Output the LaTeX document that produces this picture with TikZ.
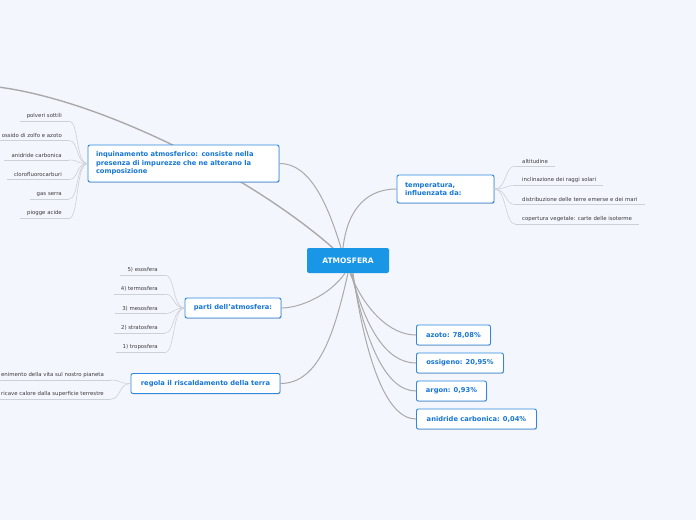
\documentclass[tikz,border=0pt]{standalone}
\usepackage{fontspec}
\setmainfont{DejaVu Sans}
\usetikzlibrary{shadows}
\hyphenpenalty=10000
\exhyphenpenalty=10000
\definecolor{bg}{RGB}{243,246,253}
\definecolor{mainblue}{RGB}{26,150,230}
\definecolor{txtblue}{RGB}{22,118,214}
\definecolor{brd}{RGB}{46,136,224}
\definecolor{conngray}{RGB}{170,170,170}
\definecolor{leafgray}{RGB}{205,208,214}
\definecolor{leaftxt}{RGB}{60,60,60}
\tikzset{
  conn/.style={draw=conngray, line width=1pt},
  longconn/.style={draw=conngray, line width=1.4pt},
  leafconn/.style={draw=leafgray, line width=0.6pt},
  box/.style={draw=brd, line width=0.9pt, fill=white, rounded corners=2pt,
    text=txtblue, font=\fontsize{6.7}{8.6}\selectfont\bfseries,
    inner xsep=8pt, inner ysep=3pt, minimum height=20pt,
    drop shadow={shadow xshift=0.6pt, shadow yshift=-0.9pt, opacity=0.35}},
  root/.style={fill=mainblue, rounded corners=2pt, text=white,
    font=\fontsize{7.5}{9}\selectfont\bfseries, minimum width=82pt, minimum height=25pt},
  leaf/.style={font=\fontsize{5.4}{6.5}\selectfont, text=leaftxt, inner xsep=7pt, inner ysep=2.5pt},
}
\begin{document}
\begin{tikzpicture}[x=1pt,y=-1pt]
\fill[bg] (0,0) rectangle (696,520);
\clip (0,0) rectangle (696,520);
\useasboundingbox (0,0) rectangle (696,520);

% long connector to off-canvas node
\coordinate (offnode) at (-2,87);
\coordinate (atmlong) at (333,248);
\draw[longconn] (atmlong) .. controls (250,175) and (100,100) .. (offnode);

% root
\node[root] (atm) at (348,260.5) {ATMOSFERA};

% main boxes
\node[box, minimum width=97pt, minimum height=28pt, text width=81pt, align=left] (temp) at (445.5,189) {temperatura,\\influenzata da:};
\node[box, minimum width=191pt, minimum height=37pt, text width=175pt, align=left] (inq) at (183.5,163.5) {inquinamento atmosferico: consiste nella presenza di impurezze che ne alterano la composizione};
\node[box, minimum width=96pt] (parti) at (233,308) {parti dell'atmosfera:};
\node[box, minimum width=149pt] (reg) at (205.5,383.5) {regola il riscaldamento della terra};
\node[box, minimum width=74pt, anchor=west] (az) at (416,335) {azoto: 78,08\%};
\node[box, minimum width=87pt, anchor=west] (ox) at (416,363) {ossigeno: 20,95\%};
\node[box, minimum width=70pt, anchor=west] (ar) at (416,391) {argon: 0,93\%};
\node[box, minimum width=120pt, anchor=west] (co) at (416,419) {anidride carbonica: 0,04\%};

% root connectors
\draw[conn] ([xshift=-5pt]atm.north) .. controls (348,205) and (370,189) .. (temp.west);
\draw[conn] ([xshift=-7pt]atm.north) .. controls (328,205) and (310,163) .. (inq.east);
\draw[conn] ([xshift=-3pt]atm.south) .. controls (330,295) and (300,308) .. (parti.east);
\draw[conn] ([xshift=0pt]atm.south) .. controls (335,330) and (320,383.5) .. (reg.east);
\draw[conn] ([xshift=2pt]atm.south) .. controls (365,310) and (390,335) .. (az.west);
\draw[conn] ([xshift=3pt]atm.south) .. controls (365,325) and (385,363) .. (ox.west);
\draw[conn] ([xshift=4pt]atm.south) .. controls (365,340) and (385,391) .. (ar.west);
\draw[conn] ([xshift=5pt]atm.south) .. controls (365,355) and (385,419) .. (co.west);

% temperature leaves
\node[leaf, anchor=south west] (t1) at (515,166) {altitudine};
\node[leaf, anchor=south west] (t2) at (515,185.5) {inclinazione dei raggi solari};
\node[leaf, anchor=south west] (t3) at (515,204.5) {distribuzione delle terre emerse e dei mari};
\node[leaf, anchor=south west] (t4) at (515,224) {copertura vegetale: carte delle isoterme};
\foreach \n in {t1,t2,t3,t4}{
  \draw[leafconn] (\n.south west) -- (\n.south east);
  \draw[leafconn] (temp.east) .. controls +(12,0) and +(-10,0) .. (\n.south west);
}

% pollution leaves
\node[leaf, anchor=south east] (p1) at (69,121) {polveri sottili};
\node[leaf, anchor=south east] (p2) at (69,140.5) {ossido di zolfo e azoto};
\node[leaf, anchor=south east] (p3) at (69,160) {anidride carbonica};
\node[leaf, anchor=south east] (p4) at (69,179.5) {clorofluorocarburi};
\node[leaf, anchor=south east] (p5) at (69,199) {gas serra};
\node[leaf, anchor=south east] (p6) at (69,218.5) {piogge acide};
\foreach \n in {p1,p2,p3,p4,p5,p6}{
  \draw[leafconn] (\n.south west) -- (\n.south east);
  \draw[leafconn] (inq.west) .. controls +(-12,0) and +(10,0) .. (\n.south east);
}

% atmosphere layers
\node[leaf, anchor=south east] (l5) at (165,275) {5) esosfera};
\node[leaf, anchor=south east] (l4) at (165,294) {4) termosfera};
\node[leaf, anchor=south east] (l3) at (165,313.5) {3) mesosfera};
\node[leaf, anchor=south east] (l2) at (165,333) {2) stratosfera};
\node[leaf, anchor=south east] (l1) at (165,352.5) {1) troposfera};
\foreach \n in {l1,l2,l3,l4,l5}{
  \draw[leafconn] (\n.south west) -- (\n.south east);
  \draw[leafconn] (parti.west) .. controls +(-12,0) and +(10,0) .. (\n.south east);
}

% regola leaves
\node[leaf, anchor=south east] (r1) at (111,380) {enimento della vita sul nostro pianeta};
\node[leaf, anchor=south east] (r2) at (111,399) {ricave calore dalla superficie terrestre};
\foreach \n in {r1,r2}{
  \draw[leafconn] (\n.south west) -- (\n.south east);
  \draw[leafconn] (reg.west) .. controls +(-12,0) and +(10,0) .. (\n.south east);
}
\end{tikzpicture}
\end{document}
